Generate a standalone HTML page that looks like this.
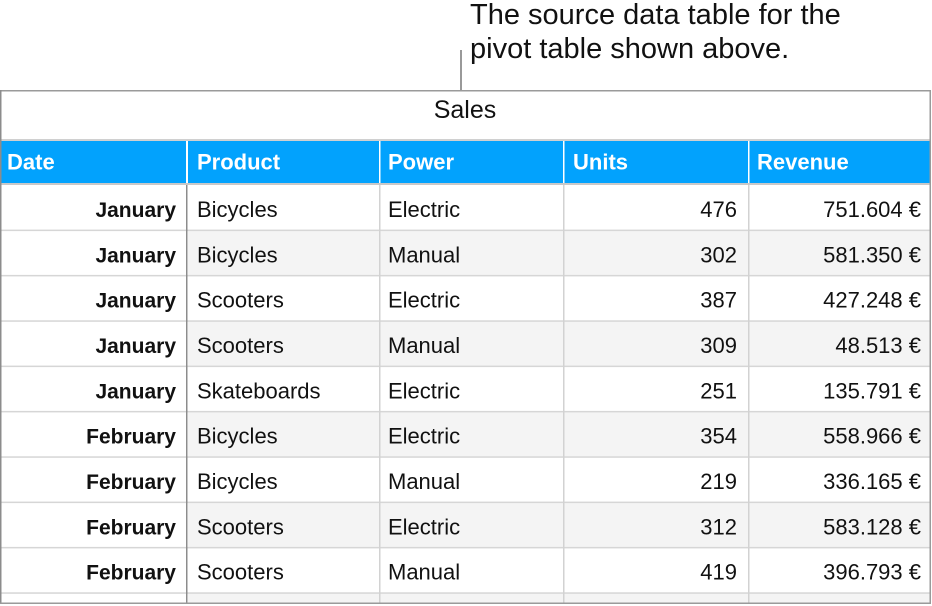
<!DOCTYPE html>
<html>
<head>
<meta charset="utf-8">
<style>
  html, body { margin:0; padding:0; background:#fff; }
  body { width:932px; height:606px; overflow:hidden; }
  svg { display:block; }
  text { font-family: "Liberation Sans", Arial, sans-serif; fill:#111; }
  .h { font-weight:bold; fill:#fff; font-size:22px; }
  .r { font-size:22px; }
  .d { font-size:21px; font-weight:bold; }
</style>
</head>
<body>
<svg width="932" height="606" viewBox="0 0 932 606" xmlns="http://www.w3.org/2000/svg">
  <!-- caption -->
  <text x="470" y="24" font-size="29">The source data table for the</text>
  <text x="470" y="58" font-size="29">pivot table shown above.</text>
  <rect x="460" y="50" width="2" height="41" fill="#999"/>

  <!-- striped rows background (cols 2-5) -->
  <rect x="188" y="230.3" width="742" height="45.3" fill="#f4f4f4"/>
  <rect x="188" y="321" width="742" height="45.3" fill="#f4f4f4"/>
  <rect x="188" y="411.7" width="742" height="45.3" fill="#f4f4f4"/>
  <rect x="188" y="502.3" width="742" height="45.3" fill="#f4f4f4"/>
  <rect x="188" y="593" width="742" height="10" fill="#f4f4f4"/>

  <!-- title row -->
  <text x="465" y="118" font-size="25" text-anchor="middle">Sales</text>
  <rect x="1" y="139" width="929" height="2" fill="#d0d0d0"/>

  <!-- header -->
  <rect x="1" y="141" width="929" height="42" fill="#02a2fd"/>
  <rect x="1" y="183" width="929" height="2" fill="#c8c8c8"/>
  <rect x="186" y="141" width="2" height="42" fill="#fff"/>
  <rect x="379" y="141" width="1.5" height="42" fill="#fff"/>
  <rect x="563" y="141" width="1.5" height="42" fill="#fff"/>
  <rect x="748" y="141" width="1.5" height="42" fill="#fff"/>
  <text class="h" x="7" y="169.5">Date</text>
  <text class="h" x="197" y="169.5">Product</text>
  <text class="h" x="388" y="169.5">Power</text>
  <text class="h" x="573" y="169.5">Units</text>
  <text class="h" x="757" y="169.5">Revenue</text>

  <!-- row lines -->
  <g fill="#d6d6d6">
    <rect x="1" y="229.6" width="929" height="1.5"/>
    <rect x="1" y="274.9" width="929" height="1.5"/>
    <rect x="1" y="320.3" width="929" height="1.5"/>
    <rect x="1" y="365.6" width="929" height="1.5"/>
    <rect x="1" y="410.9" width="929" height="1.5"/>
    <rect x="1" y="456.3" width="929" height="1.5"/>
    <rect x="1" y="501.6" width="929" height="1.5"/>
    <rect x="1" y="546.9" width="929" height="1.5"/>
    <rect x="1" y="592.3" width="929" height="1.5"/>
  </g>

  <!-- column lines -->
  <rect x="186" y="185" width="1.5" height="418" fill="#8c8c8c"/>
  <rect x="379" y="185" width="1.5" height="418" fill="#d2d2d2"/>
  <rect x="563" y="185" width="1.5" height="418" fill="#d2d2d2"/>
  <rect x="748" y="185" width="1.5" height="418" fill="#d2d2d2"/>

  <!-- outer border -->
  <rect x="0" y="90" width="931" height="1.5" fill="#9a9a9a"/>
  <rect x="0" y="90" width="1.5" height="514" fill="#8c8c8c"/>
  <rect x="929.5" y="90" width="1.5" height="514" fill="#9a9a9a"/>
  <rect x="0" y="602.5" width="931" height="1.5" fill="#9a9a9a"/>

  <!-- data -->
  <g>
    <text class="d" x="176" y="217" text-anchor="end">January</text>
    <text class="r" x="197" y="217">Bicycles</text>
    <text class="r" x="388" y="217">Electric</text>
    <text class="r" x="737" y="217" text-anchor="end">476</text>
    <text class="r" x="921" y="217" text-anchor="end">751.604 €</text>

    <text class="d" x="176" y="262.3" text-anchor="end">January</text>
    <text class="r" x="197" y="262.3">Bicycles</text>
    <text class="r" x="388" y="262.3">Manual</text>
    <text class="r" x="737" y="262.3" text-anchor="end">302</text>
    <text class="r" x="921" y="262.3" text-anchor="end">581.350 €</text>

    <text class="d" x="176" y="307.7" text-anchor="end">January</text>
    <text class="r" x="197" y="307.7">Scooters</text>
    <text class="r" x="388" y="307.7">Electric</text>
    <text class="r" x="737" y="307.7" text-anchor="end">387</text>
    <text class="r" x="921" y="307.7" text-anchor="end">427.248 €</text>

    <text class="d" x="176" y="353" text-anchor="end">January</text>
    <text class="r" x="197" y="353">Scooters</text>
    <text class="r" x="388" y="353">Manual</text>
    <text class="r" x="737" y="353" text-anchor="end">309</text>
    <text class="r" x="921" y="353" text-anchor="end">48.513 €</text>

    <text class="d" x="176" y="398.3" text-anchor="end">January</text>
    <text class="r" x="197" y="398.3">Skateboards</text>
    <text class="r" x="388" y="398.3">Electric</text>
    <text class="r" x="737" y="398.3" text-anchor="end">251</text>
    <text class="r" x="921" y="398.3" text-anchor="end">135.791 €</text>

    <text class="d" x="176" y="443.7" text-anchor="end">February</text>
    <text class="r" x="197" y="443.7">Bicycles</text>
    <text class="r" x="388" y="443.7">Electric</text>
    <text class="r" x="737" y="443.7" text-anchor="end">354</text>
    <text class="r" x="921" y="443.7" text-anchor="end">558.966 €</text>

    <text class="d" x="176" y="489" text-anchor="end">February</text>
    <text class="r" x="197" y="489">Bicycles</text>
    <text class="r" x="388" y="489">Manual</text>
    <text class="r" x="737" y="489" text-anchor="end">219</text>
    <text class="r" x="921" y="489" text-anchor="end">336.165 €</text>

    <text class="d" x="176" y="534.3" text-anchor="end">February</text>
    <text class="r" x="197" y="534.3">Scooters</text>
    <text class="r" x="388" y="534.3">Electric</text>
    <text class="r" x="737" y="534.3" text-anchor="end">312</text>
    <text class="r" x="921" y="534.3" text-anchor="end">583.128 €</text>

    <text class="d" x="176" y="579.7" text-anchor="end">February</text>
    <text class="r" x="197" y="579.7">Scooters</text>
    <text class="r" x="388" y="579.7">Manual</text>
    <text class="r" x="737" y="579.7" text-anchor="end">419</text>
    <text class="r" x="921" y="579.7" text-anchor="end">396.793 €</text>
  </g>
</svg>
</body>
</html>
